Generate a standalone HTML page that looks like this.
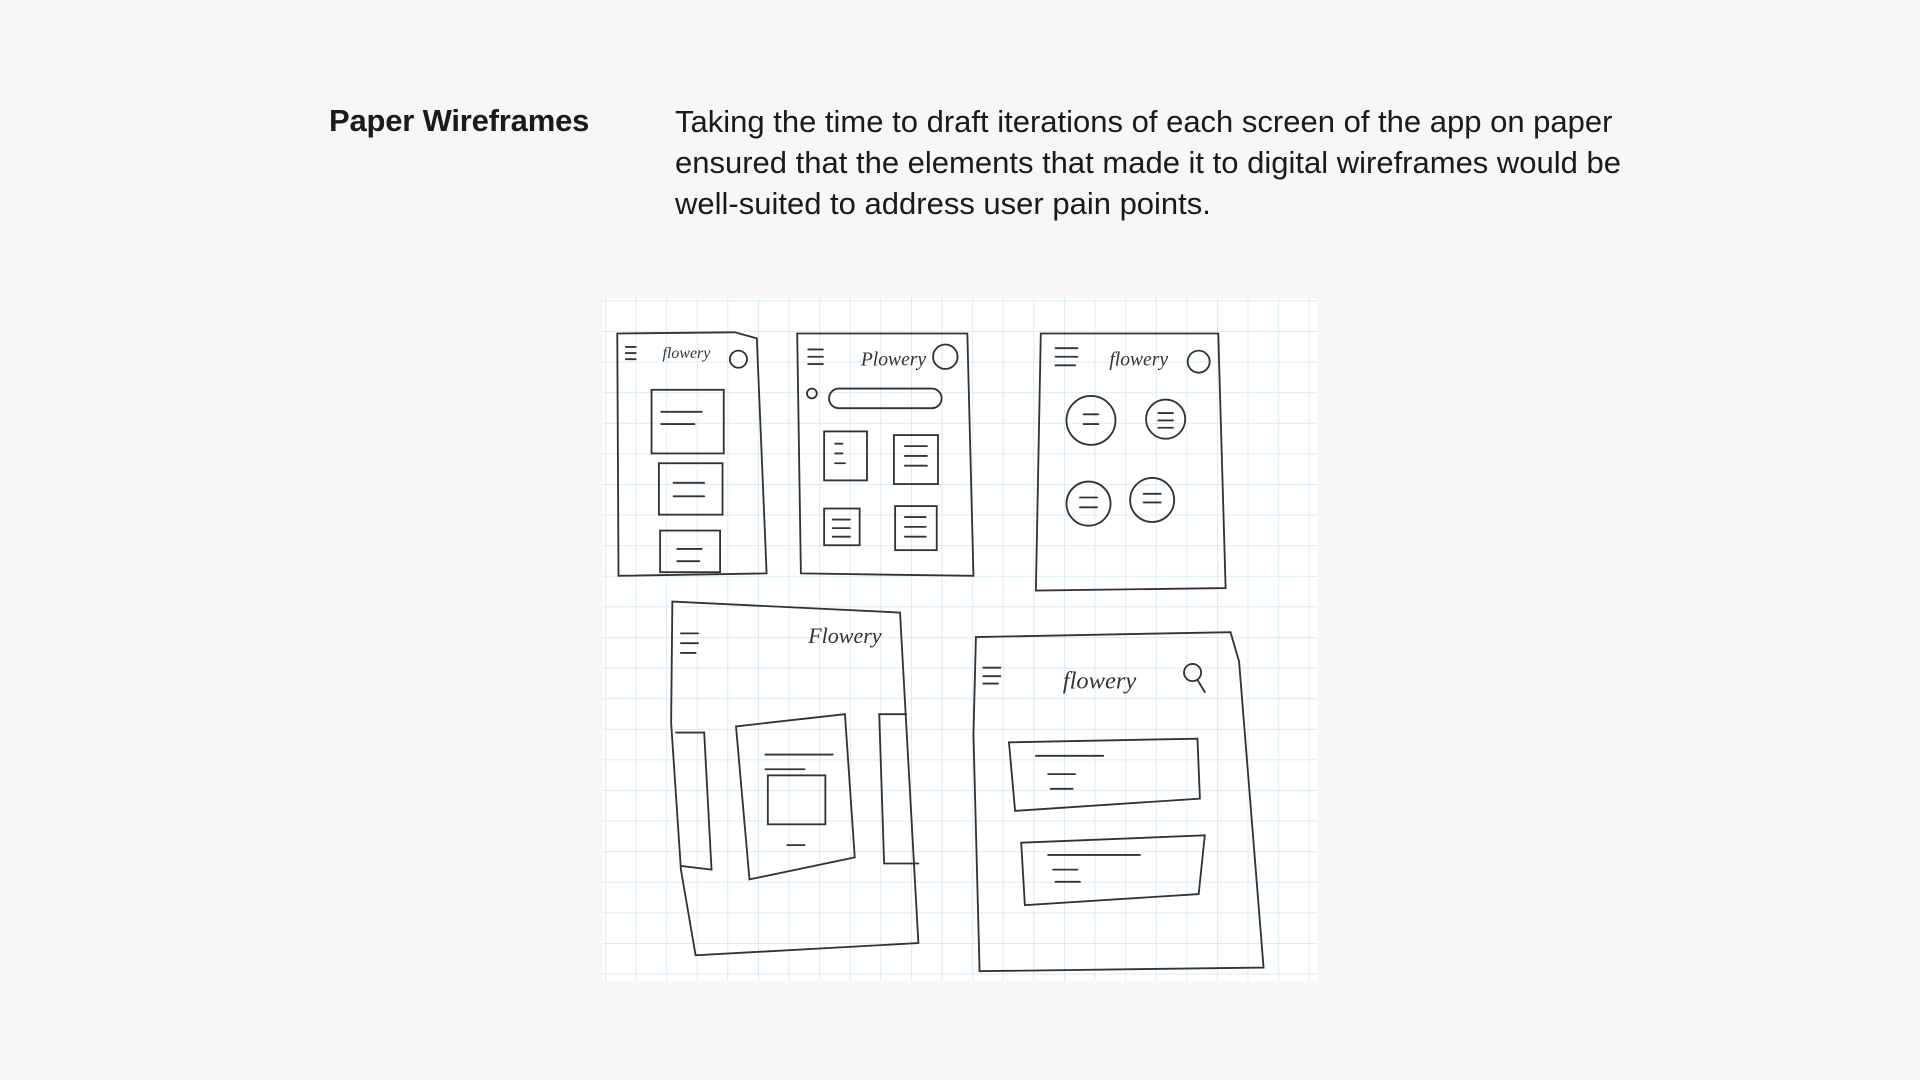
<!DOCTYPE html>
<html><head><meta charset="utf-8"><style>
html,body{margin:0;padding:0;background:#f7f7f7;width:1920px;height:1080px;overflow:hidden;font-family:"Liberation Sans",sans-serif;color:#1a1a1a}
.h{position:absolute;left:329px;top:103px;font-size:31px;font-weight:bold;letter-spacing:-0.2px}
.p{position:absolute;left:675px;top:101px;width:1200px;font-size:31px;line-height:41px;letter-spacing:0px;white-space:nowrap}
svg{position:absolute;left:602px;top:298px}
</style></head><body>
<div class="h">Paper Wireframes</div>
<div class="p">Taking the time to draft iterations of each screen of the app on paper<br>ensured that the elements that made it to digital wireframes would be<br>well-suited to address user pain points.</div>
<svg width="716" height="683" viewBox="492 243 584 558">
<defs><pattern id="g" x="494" y="245" width="25" height="25" patternUnits="userSpaceOnUse"><path d="M0 0V25M0 0H25" stroke="#cfe6f5" stroke-width="1.2" fill="none"/></pattern></defs>
<rect x="492" y="243" width="584" height="558" fill="#fff"/>
<rect x="492" y="243" width="584" height="558" fill="url(#g)"/>
<g fill="none" stroke="#333" stroke-width="1.5" stroke-linecap="round" font-family="Liberation Serif,serif" font-style="italic">
<path d="M504 272 L600 271 L618 276 L626 468 L505 470 Z"/>
<path d="M511 283h8M511 288h8M511 293h8"/>
<text x="541" y="292" font-size="13" fill="#333" stroke="none">flowery</text>
<circle cx="603" cy="293" r="7"/>
<rect x="532" y="318" width="59" height="52"/><path d="M540 336h33M540 346h27"/>
<rect x="538" y="378" width="52" height="42"/><path d="M550 394h25M550 405h25"/>
<rect x="539" y="433" width="49" height="34"/><path d="M553 448h20M553 458h18"/>
<path d="M651 272 L790 272 L795 470 L654 468 Z"/>
<path d="M660 285h12M660 291h12M660 297h12"/>
<text x="703" y="298" font-size="16" fill="#333" stroke="none">Plowery</text>
<circle cx="772" cy="291" r="10"/>
<circle cx="663" cy="321" r="4"/>
<rect x="677" y="317" width="92" height="16" rx="8"/>
<rect x="673" y="352" width="35" height="40"/><path d="M682 362h6M682 370h6M682 378h8"/>
<rect x="730" y="355" width="36" height="40"/><path d="M739 364h18M739 372h18M739 380h18"/>
<rect x="673" y="415" width="29" height="30"/><path d="M680 424h14M680 431h14M680 438h14"/>
<rect x="731" y="413" width="34" height="36"/><path d="M739 422h17M739 430h17M739 438h17"/>
<path d="M850 272 L995 272 L1001 480 L846 482 Z"/>
<path d="M862 284h18M862 291h18M862 298h16"/>
<text x="906" y="298" font-size="16" fill="#333" stroke="none">flowery</text>
<circle cx="979" cy="295" r="9"/>
<circle cx="891" cy="343" r="20"/><path d="M885 338h12M885 346h12"/>
<circle cx="952" cy="342" r="16"/><path d="M946 337h12M946 343h12M946 349h12"/>
<circle cx="889" cy="411" r="18"/><path d="M882 406h14M882 414h14"/>
<circle cx="941" cy="408" r="18"/><path d="M934 403h14M934 410h14"/>
<path d="M549 491 L735 500 L740 590 L750 770 L568 780 L556 710 L548 590 Z"/>
<path d="M556 517h14M556 525h14M556 533h12"/>
<text x="660" y="525" font-size="18" fill="#333" stroke="none">Flowery</text>
<path d="M552 598h23L581 710L556 707"/>
<path d="M601 593 L690 583 L698 700 L612 718 Z"/>
<path d="M625 616h55M625 628h32"/>
<rect x="627" y="633" width="47" height="40"/>
<path d="M643 690h14"/>
<path d="M740 583h-22L722 705h28"/>
<path d="M797 520 L1005 516 L1012 540 L1032 790 L800 793 L795 600 Z"/>
<path d="M803 545h14M803 552h14M803 558h12"/>
<text x="868" y="562" font-size="20" fill="#333" stroke="none">flowery</text>
<circle cx="974" cy="549" r="7"/><path d="M978 555l6 10"/>
<path d="M824 606 L978 603 L980 652 L829 662 Z"/>
<path d="M846 617h55M856 632h22M858 644h18"/>
<path d="M834 688 L984 682 L979 730 L837 739 Z"/>
<path d="M856 698h75M860 710h20M862 720h20"/>
</g>
</svg>
</body></html>
